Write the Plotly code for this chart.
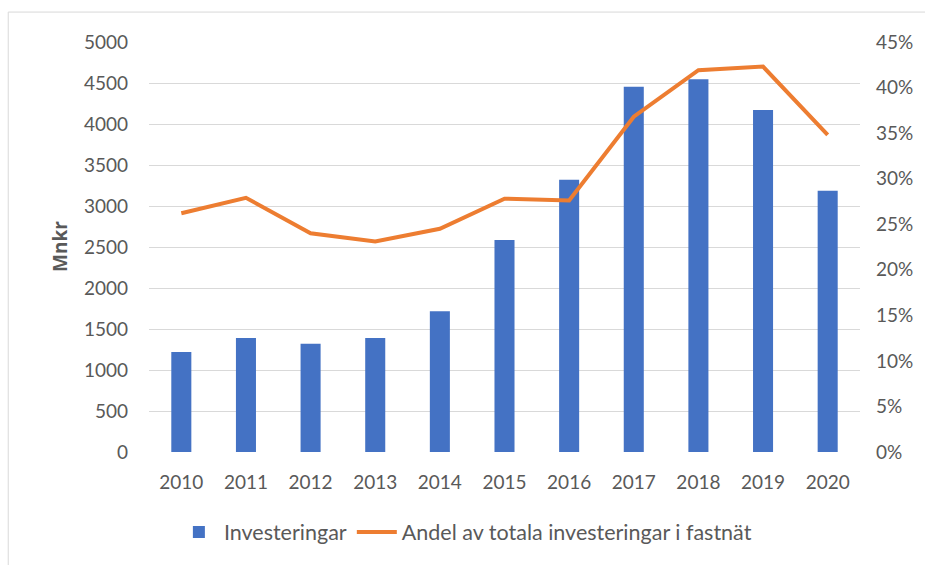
import plotly.graph_objects as go

years = ["2010", "2011", "2012", "2013", "2014", "2015", "2016", "2017", "2018", "2019", "2020"]
investeringar = [1220, 1390, 1320, 1390, 1715, 2585, 3320, 4455, 4545, 4170, 3185]
andel = [26.2, 27.9, 24.0, 23.1, 24.5, 27.8, 27.6, 36.8, 41.9, 42.3, 34.8]
left_ticks = [0, 500, 1000, 1500, 2000, 2500, 3000, 3500, 4000, 4500, 5000]
right_ticks = [0, 5, 10, 15, 20, 25, 30, 35, 40, 45]
right_labels = [f"{v}%" for v in right_ticks]

BLUE = "#4472C4"
ORANGE = "#ED7D31"
TXT = "#595959"
GRID = "#D9D9D9"
FONT = "Lato, 'Open Sans', sans-serif"

fig = go.Figure()
fig.add_trace(go.Bar(x=years, y=investeringar, name="Investeringar",
                     marker=dict(color=BLUE, line=dict(width=0)), yaxis="y"))
fig.add_trace(go.Scatter(x=years, y=andel, name="Andel av totala investeringar i fastnät",
                         mode="lines", line=dict(color=ORANGE, width=4), yaxis="y2"))

fig.update_layout(
    width=925, height=565,
    margin=dict(l=149, r=63, t=42, b=112),
    paper_bgcolor="white", plot_bgcolor="white",
    font=dict(family=FONT, size=19, color=TXT),
    bargap=0.69,
    showlegend=True,
    legend=dict(orientation="h", x=0.035, xanchor="left", y=-0.195, yanchor="middle",
                font=dict(size=21.5, color=TXT), itemwidth=40, traceorder="normal"),
    xaxis=dict(showgrid=False, showline=False, ticks="", tickfont=dict(size=19, color=TXT),
               ticklabelstandoff=17),
    yaxis=dict(range=[0, 5000], tickvals=left_ticks, showgrid=True, gridcolor=GRID, gridwidth=1,
               zeroline=False, showline=False, ticks="", tickfont=dict(size=19, color=TXT),
               ticklabelstandoff=20),
    yaxis2=dict(range=[0, 45], tickvals=right_ticks, ticktext=right_labels, overlaying="y",
                side="right", showgrid=False, zeroline=False, showline=False, ticks="",
                tickfont=dict(size=19, color=TXT), ticklabelstandoff=15),
    annotations=[dict(text="<b>Mnkr</b>", x=-0.126, y=0.501, xref="paper", yref="paper",
                      textangle=-90, showarrow=False,
                      font=dict(family="'Open Sans', Lato, sans-serif", size=19, color=TXT, weight=700),
                      xanchor="center", yanchor="middle")],
    shapes=[dict(type="rect", xref="paper", yref="paper", x0=-0.198, x1=1.2, y0=-0.5, y1=1.073,
                 line=dict(color=GRID, width=1), fillcolor="rgba(0,0,0,0)", layer="below")],
)

fig.write_html("out.html")
